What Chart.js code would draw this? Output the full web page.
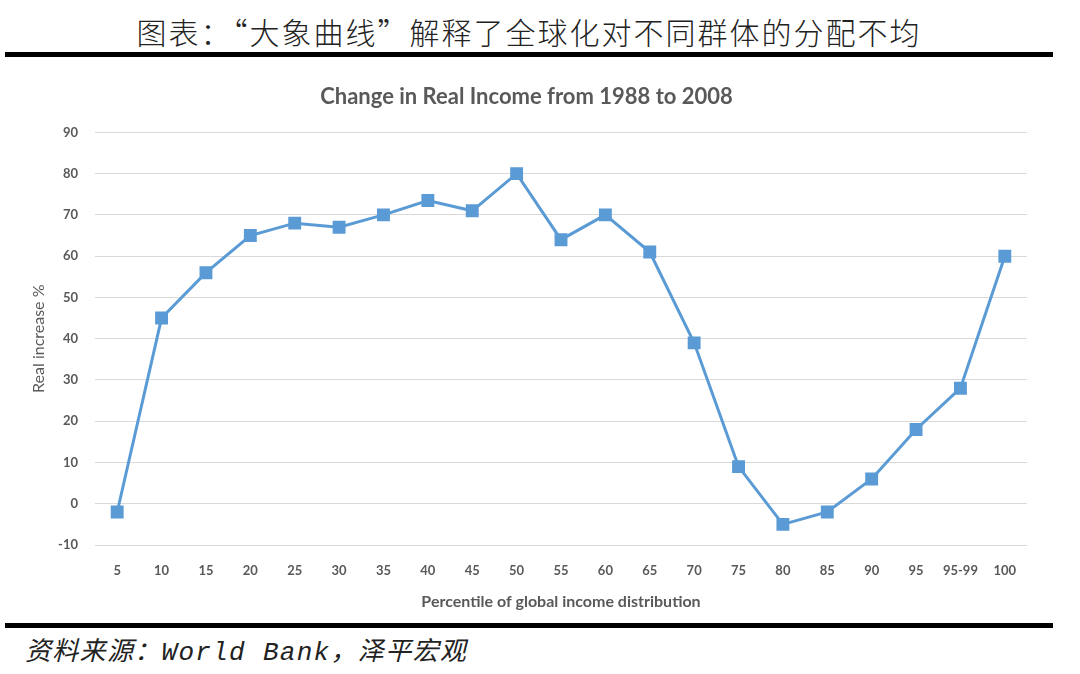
<!DOCTYPE html>
<html>
<head>
<meta charset="utf-8">
<script src="https://cdn.jsdelivr.net/npm/chart.js@4/dist/chart.umd.min.js"></script>
<style>
  html, body { margin: 0; padding: 0; background: #fff; }
  body { width: 1080px; height: 674px; position: relative; overflow: hidden; }
  #head {
    position: absolute; left: 0; top: 10px; width: 1058px; text-align: center;
    font-family: "Noto Sans CJK SC", sans-serif; font-weight: 300; font-size: 30px;
    letter-spacing: 2px; color: #222; line-height: 42px;
  }
  .rule { position: absolute; left: 5px; width: 1048px; height: 5px; background: #000; }
  #wrap { position: absolute; left: 0; top: 70px; width: 1080px; height: 545px; }
  #src {
    position: absolute; left: 25px; top: 635px;
    font-family: "Liberation Mono", "Noto Sans CJK SC", monospace; font-style: italic;
    font-size: 26px; letter-spacing: 1.3px; color: #222; line-height: 36px;
  }
</style>
</head>
<body>
<div id="head">图表：“大象曲线”解释了全球化对不同群体的分配不均</div>
<div class="rule" style="top:52px"></div>
<div id="wrap"><canvas id="chart"></canvas></div>
<div class="rule" style="top:623px"></div>
<div id="src">资料来源：World Bank，泽平宏观</div>
<script>
// percentile groups and real income growth 1988-2008 (%)
let percentiles = ['5','10','15','20','25','30','35','40','45','50','55','60','65','70','75','80','85','90','95','95-99','100'];
let realIncrease = [-2, 45, 56, 65, 68, 67, 70, 73.5, 71, 80, 64, 70, 61, 39, 9, -5, -2, 6, 18, 28, 60];
let yTicks = [-10, 0, 10, 20, 30, 40, 50, 60, 70, 80, 90];

let gray = '#595959';
let blue = '#5B9BD5';

let ctx = document.getElementById('chart').getContext('2d');
new Chart(ctx, {
    type: 'line',
    data: {
        labels: percentiles,
        datasets: [{
            data: realIncrease,
            borderColor: blue,
            backgroundColor: blue,
            borderWidth: 3,
            pointStyle: 'rect',
            pointRadius: 7,
            pointHoverRadius: 7,
            tension: 0
        }]
    },
    options: {
        responsive: true,
        maintainAspectRatio: false,
        animation: false,
        layout: { padding: { left: 26, right: 53, top: 0, bottom: 0 } },
        plugins: {
            legend: { display: false },
            tooltip: { enabled: false },
            title: {
                display: true,
                text: 'Change in Real Income from 1988 to 2008',
                color: gray,
                font: { family: 'Lato', size: 22, weight: 'bold' },
                padding: { top: 14, bottom: 22 }
            }
        },
        scales: {
            x: {
                offset: true,
                grid: { display: false },
                border: { display: false },
                ticks: {
                    color: gray, padding: 10, maxRotation: 0, autoSkip: false,
                    font: { family: 'Lato', size: 13, weight: 'bold' }
                },
                title: {
                    display: true, text: 'Percentile of global income distribution',
                    color: gray, font: { family: 'Lato', size: 16, weight: 'bold' },
                    padding: { top: 6 }
                },
                afterFit: function(scale) { scale.height = 70; }
            },
            y: {
                min: -10, max: 90,
                afterBuildTicks: function(scale) { scale.ticks = yTicks.map(v => ({ value: v })); },
                grid: { color: '#D9D9D9', lineWidth: 1, drawTicks: false },
                border: { display: false },
                ticks: {
                    color: gray, padding: 17,
                    font: { family: 'Lato', size: 13, weight: 'bold' }
                },
                title: {
                    display: true, text: 'Real increase %',
                    color: gray, font: { family: 'Lato', size: 16 },
                    padding: { top: 3, bottom: 0 }
                },
                afterFit: function(scale) { scale.width = 69; }
            }
        }
    }
});
</script>
</body>
</html>
